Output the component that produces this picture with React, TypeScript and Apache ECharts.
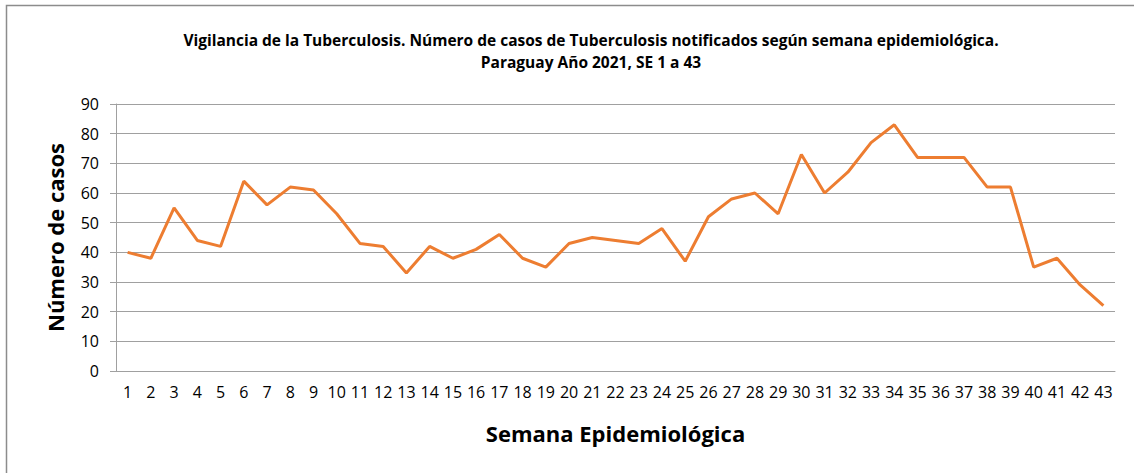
import React, { useEffect, useRef } from "react";
import * as echarts from "echarts";

const weeks: string[] = Array.from({ length: 43 }, (_, i) => String(i + 1));
const cases: number[] = [
  40, 38, 55, 44, 42, 64, 56, 62, 61, 53,
  43, 42, 33, 42, 38, 41, 46, 38, 35, 43,
  45, 44, 43, 48, 37, 52, 58, 60, 53, 73,
  60, 67, 77, 83, 72, 72, 72, 62, 62, 35,
  38, 29, 22,
];
const titleText =
  "Vigilancia de la Tuberculosis. Número de casos de Tuberculosis notificados según semana epidemiológica.\nParaguay Año 2021, SE 1 a 43";
const xName = "Semana Epidemiológica";
const yName = "Número de casos";

const FONT = "'Open Sans', 'Noto Sans', sans-serif";

export default function App() {
  const ref = useRef<HTMLDivElement>(null);
  useEffect(() => {
    document.body.style.margin = "0";
    if (!ref.current) return;
    const chart = echarts.init(ref.current, null, { renderer: "svg" });
    chart.setOption({
      animation: false,
      backgroundColor: "#ffffff",
      textStyle: { fontFamily: FONT },
      title: {
        text: titleText,
        left: 586,
        top: 24,
        textAlign: "center",
        textStyle: {
          fontFamily: FONT,
          fontSize: 15.5,
          fontWeight: "bold",
          color: "#000",
          lineHeight: 22,
        },
      },
      graphic: [
        {
          type: "rect",
          shape: { x: 6.5, y: 5.5, width: 1300, height: 600 },
          style: { fill: "none", stroke: "#8c8c8c", lineWidth: 1.5 },
          silent: true,
        },
      ],
      grid: { left: 116, right: 19, top: 104, bottom: 102 },
      xAxis: {
        type: "category",
        data: weeks,
        boundaryGap: true,
        name: xName,
        nameLocation: "middle",
        nameGap: 51,
        nameTextStyle: {
          fontFamily: FONT,
          fontSize: 22,
          fontWeight: "bold",
          color: "#000",
        },
        axisLine: { lineStyle: { color: "#a0a0a0", width: 1 } },
        axisTick: { show: false },
        axisLabel: {
          interval: 0,
          margin: 13,
          fontFamily: FONT,
          fontSize: 16,
          color: "#000",
        },
      },
      yAxis: {
        type: "value",
        min: 0,
        max: 90,
        interval: 10,
        name: yName,
        nameLocation: "middle",
        nameGap: 50,
        nameTextStyle: {
          fontFamily: FONT,
          fontSize: 22,
          fontWeight: "bold",
          color: "#000",
        },
        axisLine: { show: true, lineStyle: { color: "#a0a0a0", width: 1 } },
        axisTick: { show: true, length: 6, lineStyle: { color: "#a0a0a0" } },
        axisLabel: {
          margin: 17,
          fontFamily: FONT,
          fontSize: 16,
          color: "#000",
        },
        splitLine: { lineStyle: { color: "#a0a0a0", width: 1 } },
      },
      series: [
        {
          type: "line",
          data: cases,
          symbol: "none",
          lineStyle: { color: "#ED7D31", width: 3 },
          itemStyle: { color: "#ED7D31" },
        },
      ],
    });
    return () => chart.dispose();
  }, []);
  return <div ref={ref} style={{ width: 1134, height: 473 }} />;
}
